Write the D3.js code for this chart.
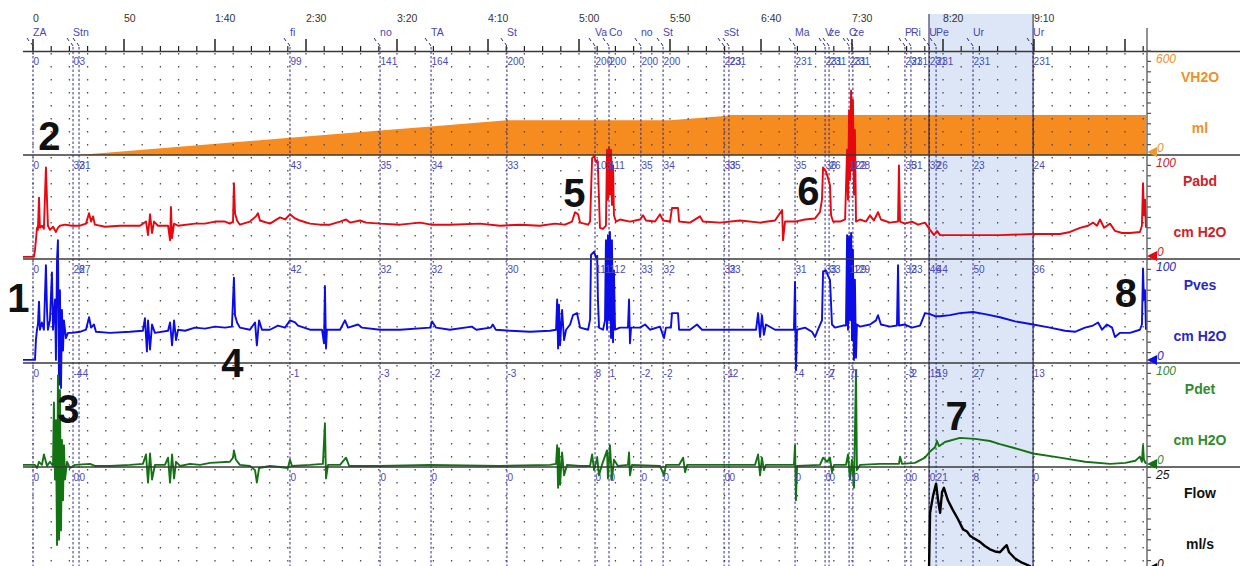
<!DOCTYPE html>
<html>
<head>
<meta charset="utf-8">
<script src="https://cdn.jsdelivr.net/npm/d3@7/dist/d3.min.js"></script>
<style>
  body { margin: 0; background: #fff; }
  svg { display: block; font-family: "Liberation Sans", Arial, sans-serif; }
</style>
</head>
<body>
<svg id="chart" width="1240" height="566"></svg>
<script>
// ---- time axis (seconds) ----
const timeTicks = [0, 50, 100, 150, 200, 250, 300, 350, 400, 450, 500, 550];
const timeTickLabels = ["0", "50", "1:40", "2:30", "3:20", "4:10", "5:00", "5:50", "6:40", "7:30", "8:20", "9:10"];

// ---- event markers ----
const eventTimes = [0, 22, 25.3, 141.2, 190.7, 218.7, 260.4, 308.8, 316.5, 334, 346.2, 379.7, 382.4,
                    418.7, 435.2, 437.4, 448.4, 450.5, 479.1, 482.4, 492.5, 496.2, 516.5, 549.5];
const eventNames = ["ZA", "Stn", "", "fi", "no", "TA", "St", "Va", "Co", "no", "St", "s", "St",
                    "Ma", "V", "ze", "C", "ze", "P", "Ri", "U", "Pe", "Ur", "Ur"];
const volumeLabels = ["0", "0", "3", "99", "141", "164", "200", "200", "200", "200", "200", "223", "231",
                      "231", "231", "231", "231", "231", "231", "231", "231", "231", "231", "231"];
const pabdLabels = ["0", "32", "31", "43", "35", "34", "33", "103", "111", "35", "34", "33", "35",
                    "35", "36", "26", "122", "128", "35", "31", "32", "26", "23", "24"];
const pvesLabels = ["0", "28", "27", "42", "32", "32", "30", "111", "112", "33", "32", "32", "33",
                    "31", "33", "33", "129", "129", "32", "33", "46", "44", "50", "36"];
const pdetLabels = ["0", "-4", "-4", "-1", "-3", "-2", "-3", "8", "1", "-2", "-2", "-1", "-2",
                    "-4", "-2", "7", "7", "1", "-3", "2", "15", "19", "27", "13"];
const flowLabels = ["0", "0", "0", "0", "0", "0", "0", "0", "0", "0", "0", "0", "0",
                    "0", "0", "0", "0", "0", "0", "0", "0", "21", "8", "0"];

// voiding phase (shaded band)
const voidStart = 492.3, voidEnd = 549.5;

// ---- channel traces: [seconds, value] ----
const volume = [[-5.5,0],[25,0],[141.2,99],[190.7,141],[218.7,164],[260.4,200],[350,200],[380,225],[384,231],[611.5,231]];

const pabd = [[-5.5,2],[0.5,2],[1.1,9],[1.6,18],[2.2,30],[2.7,28],[3.3,59],[3.8,30],[4.9,32],[6,29],[7.1,88],[7.7,57],[8.2,32],
  [9.3,28],[11,31],[12.6,26],[13.7,30],[14.8,32],[17.6,33],[21.4,32],[25.8,32],[29.1,34],[30.8,44],[31.9,36],[33,41],[34,33],
  [39.6,31],[47.8,32],[58.8,32],[62.1,36],[63.2,23],[64.3,43],[65.4,25],[66.5,36],[68.7,32],[74.2,32],[75.3,18],[75.8,50],
  [76.4,20],[77.5,34],[79.7,32],[89,34],[94.5,34],[100,36],[105.5,36],[108.2,34],[109.9,36],[110.4,73],[111,44],[112.1,37],
  [113.7,33],[119.2,36],[122.5,41],[123.6,44],[124.7,37],[130.2,34],[135.7,40],[138.5,38],[141.2,43],[144,39],[146.7,37],
  [152.2,34],[157.7,33],[163.2,33],[168.7,36],[172,38],[174.2,35],[179.7,37],[183,35],[190.7,34],[201.7,33],[212.7,35],
  [218.7,33],[229.1,33],[245.6,34],[256.6,32],[267.6,33],[278.6,32],[286.8,34],[292.3,33],[296.2,36],[297.8,45],[299.5,43],
  [300.6,35],[305,33],[306.1,36],[307.2,97],[308.3,99],[309.4,93],[310,95],[310.4,88],[311,57],[311.5,30],[313.2,29],[314.8,32],
  [315.4,105],[315.9,57],[316.5,107],[317,62],[317.6,105],[318.1,52],[318.7,90],[319.2,42],[320.3,36],[322.5,38],[328,36],
  [333.5,38],[335.2,42],[336.8,37],[341.8,36],[344.5,43],[346.2,37],[350,36],[351.1,49],[354.4,49],[355,36],[361,35],
  [366.5,41],[368.1,36],[377.5,35],[388.5,37],[399.5,35],[407.7,37],[411.6,47],[412.1,18],[413.2,36],[418.7,36],[424.2,38],
  [429.7,39],[432.4,45],[433.5,57],[434.1,88],[435.7,84],[436.8,78],[437.9,71],[438.5,42],[439.6,36],[443.4,36],[446.2,38],
  [447.3,105],[447.8,57],[448.4,143],[448.9,76],[449.5,162],[450,85],[450.5,153],[451.1,62],[451.6,124],[452.2,36],[454.4,38],
  [457.7,36],[459.9,42],[462,37],[464.3,45],[465.9,38],[470.9,35],[475.3,36],[475.8,90],[476.4,36],[479.1,34],[482.9,36],
  [486.3,33],[490.1,35],[492.9,28],[495.1,23],[496.7,27],[498.4,23],[503.8,23],[516.5,23],[531.3,23],[549.5,24],[564.3,24],
  [569.8,26],[575.3,30],[579.7,32],[582.4,35],[584.6,32],[586.3,38],[588.5,30],[591.8,34],[594.5,27],[598.4,25],[602.7,25],
  [608.2,26],[609.3,32],[609.9,73],[610.4,42],[611,57],[611.5,30]];

const pves = [[-5.5,3],[1.1,3],[1.6,22],[2.2,32],[2.7,37],[3.3,59],[3.8,32],[4.9,39],[6,32],[7.1,94],[7.7,51],[8.2,32],[9.3,41],
  [10.4,87],[11,32],[12.1,61],[12.6,3],[13.2,99],[13.7,118],[14.3,-21],[14.8,70],[15.4,-24],[15.9,51],[16.5,12],[17,41],
  [18.1,24],[19.2,29],[21.4,29],[25.8,30],[29.1,32],[30.8,44],[31.9,34],[33.5,37],[34.6,30],[42.3,29],[53.3,30],[60.4,31],
  [61.5,43],[62.6,11],[63.2,41],[64.3,13],[65.4,37],[67,29],[74.2,31],[75.3,39],[76.4,17],[77.5,41],[78.6,22],[79.7,32],
  [83.5,31],[89,34],[94.5,33],[100,35],[105.5,34],[109.3,35],[110.4,82],[111,46],[112.1,39],[113.7,34],[119.2,32],[122,39],
  [123,17],[124.2,41],[125.8,32],[130.2,32],[134.6,36],[138.5,34],[141.2,41],[144,39],[145.6,36],[152.2,32],[158.8,32],
  [159.9,19],[160.4,74],[161,14],[161.5,32],[168.7,32],[171.4,41],[173.1,34],[178.6,37],[180.8,34],[190.7,32],[201.7,32],
  [218.2,34],[219.3,40],[221.5,34],[229.1,32],[241.1,35],[243.6,32],[251.5,34],[252.6,37],[254.3,32],[262.1,31],[273.1,30],
  [284.1,31],[287.4,32],[288,61],[288.5,14],[289,56],[289.6,17],[290.7,51],[291.8,22],[292.9,32],[295.1,37],[296.7,46],
  [298.9,48],[300.6,34],[305,32],[306.1,42],[306.6,104],[308.3,107],[309.4,101],[310,103],[310.4,61],[311,34],[313.2,32],
  [314.3,41],[314.8,118],[315.4,32],[315.9,123],[316.5,41],[317,126],[317.6,24],[318.1,118],[318.7,20],[319.2,89],[319.8,32],
  [322.5,34],[326.9,34],[327.5,61],[328,19],[328.6,34],[333.5,34],[336.3,37],[339,32],[344.5,35],[346.7,24],[347.8,34],
  [350.5,34],[351.1,48],[354.4,48],[355,32],[361,32],[364.8,37],[367.6,32],[377.5,32],[388.5,32],[397.3,32],[398.4,48],
  [399.5,25],[400.5,46],[401.6,27],[402.7,37],[407.7,32],[413.2,32],[418.1,32],[418.7,78],[419.2,-7],[419.8,32],[424.2,34],
  [428,30],[429.7,25],[431.3,32],[433.5,41],[434.1,88],[435.7,89],[436.8,84],[437.9,80],[439,37],[440.7,34],[445.1,36],
  [446.7,36],[447.3,123],[447.8,32],[448.4,122],[448.9,41],[449.5,125],[450,22],[450.5,109],[451.1,3],[451.6,80],[452.2,5],
  [452.7,37],[454.4,35],[459.9,37],[463.2,41],[464.3,46],[465.9,37],[470.9,35],[474.7,36],[475.3,94],[475.8,36],[479.1,37],
  [482.9,34],[487.4,36],[490.1,48],[492.9,47],[495.6,45],[498.4,45],[503.8,46],[509.3,48],[516.5,49],[523.1,47],[531.3,44],
  [539.6,40],[549.5,37],[558.8,34],[567,31],[572.5,30],[578,34],[582.4,36],[585.2,39],[587.4,32],[590.1,37],[592.9,34],
  [594.5,25],[597.3,29],[602.7,29],[608.2,32],[609.3,37],[609.9,91],[610.4,61],[611,70],[611.5,32]];

const pdet = [[-5.5,2],[1.1,2],[2.2,-1],[3.3,5],[4.9,2],[6,12],[7.7,1],[9.3,5],[11,1],[11.5,62],[12.1,-12],[12.6,45],[13.2,-75],
  [13.7,88],[14.3,-70],[14.8,74],[15.4,-61],[15.9,26],[16.5,-32],[17,21],[17.6,-12],[18.7,5],[20.3,-1],[23.1,2],[31.3,3],
  [34,1],[42.3,1],[53.3,2],[60.4,3],[62.1,12],[63.2,-15],[64.3,13],[65.4,-12],[67,2],[72.5,2],[74.2,9],[75.3,-15],[76.4,12],
  [77.5,-11],[78.6,5],[80.8,1],[86.3,3],[91.8,2],[97.3,4],[108.2,5],[109.9,9],[110.4,16],[111.5,7],[113.7,2],[119.2,1],
  [122,-3],[123,-15],[124.2,-1],[130.2,1],[135.7,0],[140.1,-1],[141.2,7],[142.3,1],[152.2,2],[159.3,3],[160.4,42],[161,-11],
  [162.1,2],[168.7,2],[172,9],[173.7,1],[190.7,1],[218.2,2],[256.6,1],[284.1,2],[287.4,3],[288,21],[288.5,-20],[289,18],
  [289.6,-17],[290.7,14],[291.8,-8],[293.4,2],[300.6,1],[306.1,1],[307.2,12],[308.3,-3],[310,9],[311,-8],[312.6,2],[315.4,16],
  [315.9,-11],[317,21],[318.1,-12],[319.2,7],[321.4,1],[326.9,2],[327.5,14],[328,-8],[329.1,2],[344.5,1],[346.7,-8],[347.8,2],
  [355,2],[357.2,9],[358.3,-5],[359.4,2],[396.7,2],[398.4,12],[399.5,-8],[400.5,9],[401.6,-3],[402.7,2],[418.1,2],[418.7,21],
  [419.2,-32],[419.8,1],[432.4,2],[434.1,9],[436.3,5],[437.9,9],[439,-5],[440.1,2],[446.7,2],[447.8,12],[448.9,-12],[450,7],
  [451.1,-20],[452.2,93],[452.7,-3],[454.4,2],[465.4,3],[475.8,3],[476.4,10],[477.5,3],[484.6,4],[490.1,9],[492.9,15],
  [495.6,19],[496.7,25],[497.8,20],[501.1,24],[509.3,28],[517.6,27],[525.8,25],[531.3,22],[539.6,18],[549.5,13],[564.3,9],
  [578,5],[591.8,3],[600.2,4],[605.7,6],[608.2,10],[609.3,5],[609.9,21],[610.4,7],[611.5,3]];

const flow = [[-5.5,0],[492.3,0],[492.9,14],[494.5,18],[496.2,21],[497.3,17],[498.4,14],[499.5,19],[500.5,20],[502.7,17],
  [505,15],[508.2,12.5],[511,10],[513.2,9.5],[514.8,8.5],[516.5,8],[520.3,7],[523,6],[525.8,5.2],[528.6,4.7],[531.3,4.5],
  [534,5.8],[535,6.2],[536.3,4.5],[539.6,3],[543.4,2],[547.8,1.2],[549.5,0],[611.5,0]];

// ---- annotation numbers: [label, seconds, channel index, value] ----
const calloutText = ["1", "2", "3", "4", "5", "6", "7", "8"];
const calloutTime = [-8, 9, 19.5, 109.5, 297.5, 426, 507.5, 600.5];
const calloutPanel = [2, 0, 3, 2, 1, 1, 3, 2];
const calloutValue = [49, 30, 42, -13, 50, 52, 36, 54];

// ---- layout ----
const svg = d3.select("#chart");
const x = d3.scaleLinear().domain([0, 600]).range([33, 1125]);
const plotLeft = 23, plotRight = 1147, W = 1240, H = 566;
const top0 = 51, panelH = 104;

const channels = [
  { name: "VH2O", unit: "ml",     max: 600, line: "#f68b1f", text: "#ef902c", data: volume, labels: volumeLabels },
  { name: "Pabd", unit: "cm H2O", max: 100, line: "#e8070e", text: "#cf2128", data: pabd,   labels: pabdLabels },
  { name: "Pves", unit: "cm H2O", max: 100, line: "#0c0ce6", text: "#2a2ac2", data: pves,   labels: pvesLabels },
  { name: "Pdet", unit: "cm H2O", max: 100, line: "#137313", text: "#2f8c2f", data: pdet,   labels: pdetLabels },
  { name: "Flow", unit: "ml/s",   max: 25,  line: "#000000", text: "#111111", data: flow,   labels: flowLabels }
];
channels.forEach((c, i) => {
  c.top = top0 + i * panelH;
  c.bottom = c.top + panelH;
  c.y = d3.scaleLinear().domain([0, c.max]).range([c.bottom, c.top]);
});

// shaded voiding band
svg.append("rect")
  .attr("x", x(voidStart)).attr("y", 14)
  .attr("width", x(voidEnd) - x(voidStart)).attr("height", H - 14)
  .attr("fill", "#dce6f6");

// infused volume as filled area
const vol = channels[0];
svg.append("path")
  .datum(vol.data)
  .attr("fill", vol.line)
  .attr("d", d3.area().x(d => x(d[0])).y0(vol.bottom).y1(d => vol.y(d[1])));

// dotted grid every 10 s
const gridTimes = d3.range(0, 611, 10);
const gridG = svg.append("g");
channels.forEach(c => {
  gridG.selectAll(null).data(gridTimes).enter().append("line")
    .attr("x1", d => x(d)).attr("x2", d => x(d))
    .attr("y1", c.top + 2).attr("y2", c.bottom)
    .attr("stroke", "#4a4a4a").attr("stroke-width", 1.3)
    .attr("stroke-dasharray", "1.6,11.4");
});

// event lines
const evG = svg.append("g");
evG.selectAll("line").data(eventTimes).enter().append("line")
  .attr("x1", d => x(d)).attr("x2", d => x(d))
  .attr("y1", 47).attr("y2", H)
  .attr("stroke", "#2d2d8c").attr("stroke-width", 1)
  .attr("stroke-dasharray", "2.5,2");

// small event glyphs above the axis
evG.selectAll("path").data(eventTimes).enter().append("path")
  .attr("d", d => { const px = x(d); return `M${px-6},38 L${px-4},41 M${px-2},43 L${px},46`; })
  .attr("stroke", "#2d2d8c").attr("stroke-width", 1).attr("fill", "none");

// band borders
svg.selectAll(".band").data([voidStart, voidEnd]).enter().append("line")
  .attr("x1", d => x(d)).attr("x2", d => x(d)).attr("y1", 14).attr("y2", H)
  .attr("stroke", "#1e1e4a").attr("stroke-width", 1);

// pressure and flow traces
channels.slice(1).forEach(c => {
  svg.append("path")
    .datum(c.data)
    .attr("fill", "none")
    .attr("stroke", c.line)
    .attr("stroke-width", c.name === "Flow" ? 2.4 : 1.9)
    .attr("stroke-linejoin", "round")
    .attr("d", d3.line().x(d => x(d[0])).y(d => c.y(d[1])));
});

// panel separators and time axis baseline
svg.selectAll(".sep").data(channels.slice(0, 4)).enter().append("line")
  .attr("x1", plotLeft).attr("x2", W).attr("y1", d => d.bottom).attr("y2", d => d.bottom)
  .attr("stroke", "#3a3a3a").attr("stroke-width", 1.6);
svg.append("line").attr("x1", plotLeft).attr("x2", W).attr("y1", top0 + 0.5).attr("y2", top0 + 0.5)
  .attr("stroke", "#3a3a3a").attr("stroke-width", 1.6);

// right value axis line
svg.append("line").attr("x1", plotRight).attr("x2", plotRight).attr("y1", 28).attr("y2", H)
  .attr("stroke", "#555").attr("stroke-width", 1.3);

// time ticks: major every 50 s, minor every 10 s
const tickTimes = d3.range(0, 611, 10);
svg.append("g").selectAll("line").data(tickTimes).enter().append("line")
  .attr("x1", d => x(d)).attr("x2", d => x(d))
  .attr("y1", d => (d % 50 === 0 ? 39 : 46)).attr("y2", top0)
  .attr("stroke", "#222").attr("stroke-width", d => (d % 50 === 0 ? 1.5 : 1.2));

svg.append("g").selectAll("text").data(timeTicks).enter().append("text")
  .attr("x", d => x(d)).attr("y", 22)
  .attr("font-size", 10.5).attr("fill", "#333")
  .text((d, i) => timeTickLabels[i]);

// event names
svg.append("g").selectAll("text").data(eventTimes).enter().append("text")
  .attr("x", d => x(d)).attr("y", 36)
  .attr("font-size", 10.5).attr("fill", "#4646b6")
  .text((d, i) => eventNames[i]);

// channel values at each event, under each panel's top edge
channels.forEach(c => {
  svg.append("g").selectAll("text").data(eventTimes).enter().append("text")
    .attr("x", d => x(d) + 0.5).attr("y", c.top + 13.5)
    .attr("font-size", 10).attr("fill", "#4a4ab8")
    .text((d, i) => c.labels[i]);
});

// right-hand scale ticks, range labels, zero markers and channel names
channels.forEach(c => {
  const tv = d3.range(0, c.max + 0.001, c.max / 10);
  svg.append("g").selectAll("line").data(tv).enter().append("line")
    .attr("x1", plotRight).attr("x2", plotRight + 4)
    .attr("y1", d => c.y(d)).attr("y2", d => c.y(d))
    .attr("stroke", "#555").attr("stroke-width", 1.2);
  svg.append("text").attr("x", plotRight + 9).attr("y", c.top + 12)
    .attr("font-size", 12).attr("font-style", "italic").attr("fill", c.text)
    .text(c.max);
  svg.append("text").attr("x", plotRight + 10).attr("y", c.bottom - 3)
    .attr("font-size", 12).attr("font-style", "italic").attr("fill", c.text)
    .text("0");
  const b = c.bottom - 3;
  svg.append("path")
    .attr("d", `M${plotRight},${b} L${plotRight + 10},${b - 5} L${plotRight + 10},${b + 5} Z`)
    .attr("fill", c.name === "VH2O" ? "#f0982f" : c.line);
  svg.append("text").attr("x", 1200).attr("y", c.top + 31)
    .attr("text-anchor", "middle").attr("font-size", 14).attr("font-weight", "bold").attr("fill", c.text)
    .text(c.name);
  svg.append("text").attr("x", 1200).attr("y", c.top + 82)
    .attr("text-anchor", "middle").attr("font-size", 14).attr("font-weight", "bold").attr("fill", c.text)
    .text(c.unit);
});

// numbered callouts
svg.append("g").selectAll("text").data(calloutText).enter().append("text")
  .attr("x", (d, i) => x(calloutTime[i]))
  .attr("y", (d, i) => channels[calloutPanel[i]].y(calloutValue[i]))
  .attr("text-anchor", "middle")
  .attr("font-size", 40).attr("font-weight", "bold").attr("fill", "#111")
  .text(d => d);
</script>
</body>
</html>
